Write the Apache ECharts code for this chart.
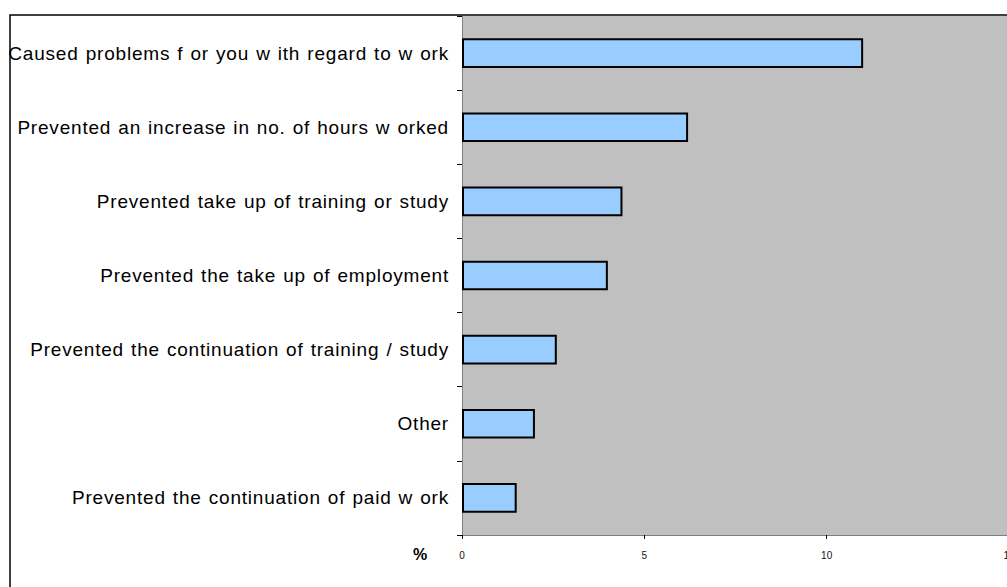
<!DOCTYPE html>
<html>
<head>
<meta charset="utf-8">
<script src="https://cdn.jsdelivr.net/npm/echarts@6/dist/echarts.min.js"></script>
<style>
  html, body { margin: 0; padding: 0; background: #fff; }
  #main { width: 1007px; height: 587px; }
  /* the source chart's category labels are drawn slightly spread out */
  #main svg text[style*="19px"] { letter-spacing: 0.8px; word-spacing: 1px; }
</style>
</head>
<body>
<div id="main"></div>
<script>
// categories top to bottom, as printed in the source chart
var categories = [
  'Caused problems f or you w ith regard to w ork',
  'Prevented an increase in no. of hours w orked',
  'Prevented take up of training or study',
  'Prevented the take up of employment',
  'Prevented the continuation of training / study',
  'Other',
  'Prevented the continuation of paid w ork'
];
var values = [11.0, 6.2, 4.4, 4.0, 2.6, 2.0, 1.5];
var xTicks = [0, 5, 10, 15];

var chart = echarts.init(document.getElementById('main'), null, { renderer: 'svg' });

var option = {
  backgroundColor: '#fff',
  animation: false,
  textStyle: { fontFamily: 'Liberation Sans, Arial, sans-serif' },
  grid: {
    left: 462,
    top: 16,
    width: 547,
    height: 519,
    outerBoundsMode: 'none',
    containLabel: false,
    show: true,
    backgroundColor: '#C0C0C0',
    borderWidth: 0
  },
  xAxis: {
    type: 'value',
    min: xTicks[0],
    max: xTicks[xTicks.length - 1],
    interval: 5,
    axisLine: { show: true, lineStyle: { color: '#808080', width: 1 } },
    axisTick: { show: true, length: 4, lineStyle: { color: '#000' } },
    axisLabel: { fontSize: 10, color: '#111', margin: 15 },
    splitLine: { show: false }
  },
  yAxis: {
    type: 'category',
    inverse: true,
    data: categories,
    axisLine: { show: true, lineStyle: { color: '#808080', width: 1 } },
    axisTick: { show: true, length: 5, inside: false, lineStyle: { color: '#000' } },
    axisLabel: { fontSize: 19, color: '#000', margin: 13 }
  },
  series: [{
    type: 'bar',
    data: values,
    barCategoryGap: '60%',
    itemStyle: { color: '#99CCFF', borderColor: '#000', borderWidth: 2 }
  }],
  graphic: [
    {
      type: 'rect',
      shape: { x: 10, y: 15, width: 1100, height: 700 },
      style: { fill: 'none', stroke: '#000', lineWidth: 1.5 },
      z: 100
    },
    {
      type: 'text',
      x: 413,
      y: 546,
      style: { text: '%', font: 'bold 16px Liberation Sans, Arial, sans-serif', fill: '#000' }
    }
  ]
};

chart.setOption(option);
</script>
</body>
</html>
